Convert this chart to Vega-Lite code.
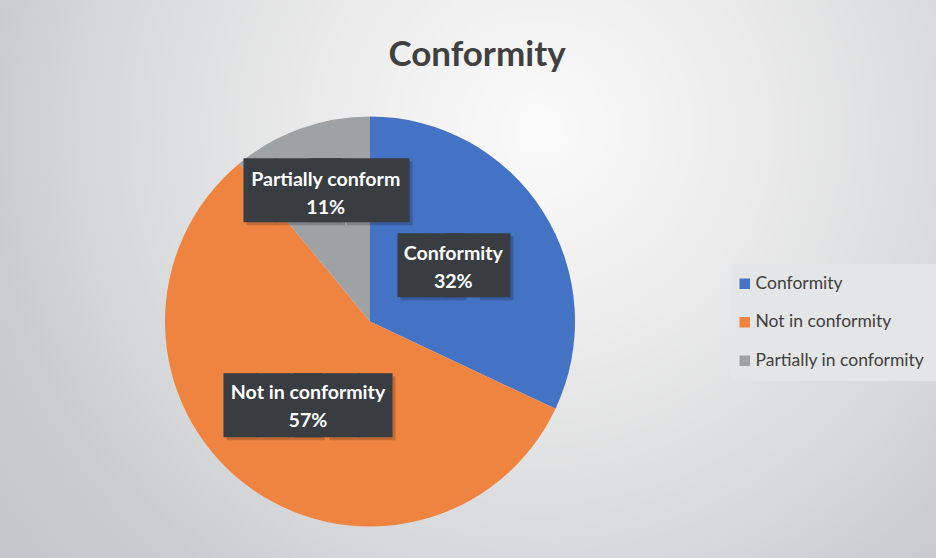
{
  "$schema": "https://vega.github.io/schema/vega-lite/v6.json",
  "width": 1132,
  "height": 1132,
  "autosize": {"type": "none"},
  "padding": {"left": -196, "top": -244.5, "right": 0, "bottom": -329.5},
  "background": "#ffffff",
  "title": {"text": "Conformity", "font": "Lato", "fontSize": 35, "fontWeight": "bold", "color": "#404040", "anchor": "middle", "dx": 107, "offset": 0, "baseline": "alphabetic", "dy": 345.5},
  "config": {"view": {"stroke": null}},
  "data": {"values": [
    {"category": "Conformity", "value": 32, "lines": ["Conformity", "32%"]},
    {"category": "Not in conformity", "value": 57, "lines": ["Not in conformity", "57%"]},
    {"category": "Partially in conformity", "value": 11, "lines": ["Partially conform", "11%"]}
  ]},
  "layer": [
    {
      "data": {"values": [{}]},
      "mark": {"type": "rect", "fill": {"gradient": "radial", "x1": 0.65, "y1": 0.331, "r1": 0, "x2": 0.65, "y2": 0.331, "r2": 0.618, "stops": [{"offset": 0, "color": "#fafafa"}, {"offset": 0.286, "color": "#ececec"}, {"offset": 0.657, "color": "#d5d6d8"}, {"offset": 0.786, "color": "#cbcccd"}, {"offset": 1, "color": "#c4c5c7"}]}},
      "encoding": {}
    },
    {
      "mark": {"type": "arc", "outerRadius": 205},
      "encoding": {
        "theta": {"field": "value", "type": "quantitative", "stack": true},
        "color": {"field": "category", "type": "nominal", "title": null,
          "scale": {"domain": ["Conformity", "Not in conformity", "Partially in conformity"], "range": ["#4472c4", "#ef8441", "#9fa2a5"]},
          "legend": {"orient": "none", "legendX": 927, "legendY": 508.5, "fillColor": "#e4e5e6", "padding": 11, "rowPadding": 19.5, "symbolType": "square", "symbolSize": 110, "symbolStrokeWidth": 0, "symbolOffset": -6, "labelFont": "Lato", "labelFontSize": 17.5, "labelColor": "#404040", "labelOffset": 2, "labelLimit": 300}}
      }
    },
    {
      "mark": {"type": "text", "font": "DejaVu Sans Mono", "fontSize": 54, "align": "left", "baseline": "alphabetic", "color": "#000000", "opacity": 0.18, "radius": 101, "dx": -54.3, "dy": 19.8},
      "encoding": {
        "theta": {"field": "value", "type": "quantitative", "stack": true},
        "detail": {"field": "category"},
        "text": {"condition": {"test": "datum.category === 'Conformity'", "value": "██"}, "value": ""}
      }
    },
    {
      "mark": {"type": "text", "font": "DejaVu Sans Mono", "fontSize": 54, "align": "right", "baseline": "alphabetic", "color": "#000000", "opacity": 0.18, "radius": 101, "dx": 57.7, "dy": 19.8},
      "encoding": {
        "theta": {"field": "value", "type": "quantitative", "stack": true},
        "detail": {"field": "category"},
        "text": {"condition": {"test": "datum.category === 'Conformity'", "value": "█"}, "value": ""}
      }
    },
    {
      "mark": {"type": "text", "font": "DejaVu Sans Mono", "fontSize": 54, "align": "left", "baseline": "alphabetic", "color": "#393c41", "radius": 101, "dx": -57.3, "dy": 16.8},
      "encoding": {
        "theta": {"field": "value", "type": "quantitative", "stack": true},
        "detail": {"field": "category"},
        "text": {"condition": {"test": "datum.category === 'Conformity'", "value": "██"}, "value": ""}
      }
    },
    {
      "mark": {"type": "text", "font": "DejaVu Sans Mono", "fontSize": 54, "align": "right", "baseline": "alphabetic", "color": "#393c41", "radius": 101, "dx": 54.7, "dy": 16.8},
      "encoding": {
        "theta": {"field": "value", "type": "quantitative", "stack": true},
        "detail": {"field": "category"},
        "text": {"condition": {"test": "datum.category === 'Conformity'", "value": "██"}, "value": ""}
      }
    },
    {
      "mark": {"type": "text", "font": "Lato", "fontSize": 19.6, "fontWeight": "bold", "align": "center", "baseline": "middle", "lineHeight": 28, "color": "#ffffff", "radius": 101, "dx": -2, "dy": -13},
      "encoding": {
        "theta": {"field": "value", "type": "quantitative", "stack": true},
        "detail": {"field": "category"},
        "text": {"condition": {"test": "datum.category === 'Conformity'", "field": "lines"}, "value": ""}
      }
    },
    {
      "mark": {"type": "text", "font": "DejaVu Sans Mono", "fontSize": 54, "align": "left", "baseline": "alphabetic", "color": "#000000", "opacity": 0.18, "radius": 104.4, "dx": -79, "dy": 23.2},
      "encoding": {
        "theta": {"field": "value", "type": "quantitative", "stack": true},
        "detail": {"field": "category"},
        "text": {"condition": {"test": "datum.category === 'Not in conformity'", "value": "███"}, "value": ""}
      }
    },
    {
      "mark": {"type": "text", "font": "DejaVu Sans Mono", "fontSize": 54, "align": "right", "baseline": "alphabetic", "color": "#000000", "opacity": 0.18, "radius": 104.4, "dx": 89, "dy": 23.2},
      "encoding": {
        "theta": {"field": "value", "type": "quantitative", "stack": true},
        "detail": {"field": "category"},
        "text": {"condition": {"test": "datum.category === 'Not in conformity'", "value": "██"}, "value": ""}
      }
    },
    {
      "mark": {"type": "text", "font": "DejaVu Sans Mono", "fontSize": 54, "align": "left", "baseline": "alphabetic", "color": "#393c41", "radius": 104.4, "dx": -82, "dy": 20.2},
      "encoding": {
        "theta": {"field": "value", "type": "quantitative", "stack": true},
        "detail": {"field": "category"},
        "text": {"condition": {"test": "datum.category === 'Not in conformity'", "value": "███"}, "value": ""}
      }
    },
    {
      "mark": {"type": "text", "font": "DejaVu Sans Mono", "fontSize": 54, "align": "right", "baseline": "alphabetic", "color": "#393c41", "radius": 104.4, "dx": 86, "dy": 20.2},
      "encoding": {
        "theta": {"field": "value", "type": "quantitative", "stack": true},
        "detail": {"field": "category"},
        "text": {"condition": {"test": "datum.category === 'Not in conformity'", "value": "███"}, "value": ""}
      }
    },
    {
      "mark": {"type": "text", "font": "Lato", "fontSize": 19.6, "fontWeight": "bold", "align": "center", "baseline": "middle", "lineHeight": 28, "color": "#ffffff", "radius": 104.4, "dx": 2, "dy": -10.5},
      "encoding": {
        "theta": {"field": "value", "type": "quantitative", "stack": true},
        "detail": {"field": "category"},
        "text": {"condition": {"test": "datum.category === 'Not in conformity'", "field": "lines"}, "value": ""}
      }
    },
    {
      "mark": {"type": "text", "font": "DejaVu Sans Mono", "fontSize": 54, "align": "left", "baseline": "alphabetic", "color": "#000000", "opacity": 0.18, "radius": 138, "dx": -76.3, "dy": 20.5},
      "encoding": {
        "theta": {"field": "value", "type": "quantitative", "stack": true},
        "detail": {"field": "category"},
        "text": {"condition": {"test": "datum.category === 'Partially in conformity'", "value": "███"}, "value": ""}
      }
    },
    {
      "mark": {"type": "text", "font": "DejaVu Sans Mono", "fontSize": 54, "align": "right", "baseline": "alphabetic", "color": "#000000", "opacity": 0.18, "radius": 138, "dx": 88.7, "dy": 20.5},
      "encoding": {
        "theta": {"field": "value", "type": "quantitative", "stack": true},
        "detail": {"field": "category"},
        "text": {"condition": {"test": "datum.category === 'Partially in conformity'", "value": "██"}, "value": ""}
      }
    },
    {
      "mark": {"type": "text", "font": "DejaVu Sans Mono", "fontSize": 54, "align": "left", "baseline": "alphabetic", "color": "#393c41", "radius": 138, "dx": -79.3, "dy": 17.5},
      "encoding": {
        "theta": {"field": "value", "type": "quantitative", "stack": true},
        "detail": {"field": "category"},
        "text": {"condition": {"test": "datum.category === 'Partially in conformity'", "value": "███"}, "value": ""}
      }
    },
    {
      "mark": {"type": "text", "font": "DejaVu Sans Mono", "fontSize": 54, "align": "right", "baseline": "alphabetic", "color": "#393c41", "radius": 138, "dx": 85.7, "dy": 17.5},
      "encoding": {
        "theta": {"field": "value", "type": "quantitative", "stack": true},
        "detail": {"field": "category"},
        "text": {"condition": {"test": "datum.category === 'Partially in conformity'", "value": "███"}, "value": ""}
      }
    },
    {
      "mark": {"type": "text", "font": "Lato", "fontSize": 19.6, "fontWeight": "bold", "align": "center", "baseline": "middle", "lineHeight": 28, "color": "#ffffff", "radius": 138, "dx": 2.5, "dy": -11.3},
      "encoding": {
        "theta": {"field": "value", "type": "quantitative", "stack": true},
        "detail": {"field": "category"},
        "text": {"condition": {"test": "datum.category === 'Partially in conformity'", "field": "lines"}, "value": ""}
      }
    }
  ]
}
